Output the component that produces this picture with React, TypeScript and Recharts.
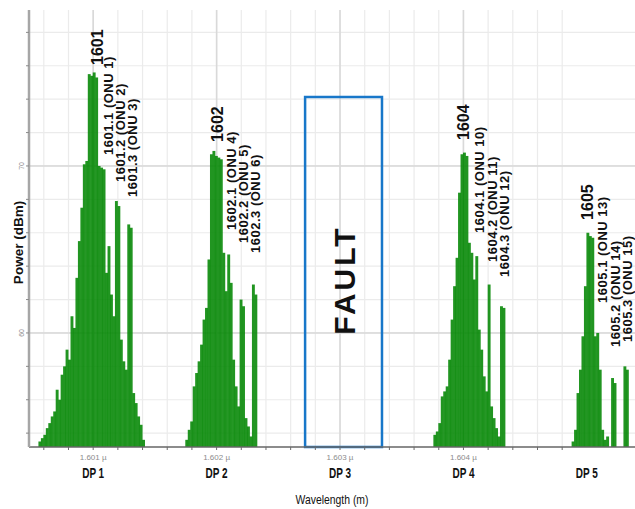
import {
  ComposedChart,
  Bar,
  XAxis,
  YAxis,
  CartesianGrid,
  ReferenceArea,
  ReferenceDot,
} from 'recharts';

// spacing of the analyzer samples, in nm
const SAMPLE_STEP = 0.02;

// DP 1 : 1601 band
const dp1Start = 1600.57;
const dp1Power = [
  53.5, 53.7, 53.9, 54.3, 54.6, 55.0, 55.3, 56.6, 56.0, 57.5,
  58.0, 59.0, 58.4, 61.0, 60.3, 63.3, 65.5, 67.5, 70.1, 70.3,
  75.5, 75.4, 75.6, 75.3, 70.0, 69.9, 69.8, 63.6, 65.2, 62.3,
  61.0, 67.9, 67.6, 59.6, 58.3, 57.8, 66.5, 66.3, 56.4, 55.8,
  55.0, 54.5, 53.6,
];

// DP 2 : 1602 band
const dp2Start = 1601.76;
const dp2Power = [
  53.6, 54.2, 54.7, 56.8, 57.6, 58.3, 59.3, 60.8, 61.5, 64.4,
  70.7, 70.9, 70.6, 70.5, 70.4, 64.8, 62.5, 64.7, 63.0, 58.4,
  56.8, 55.6, 62.0, 61.6, 54.9, 54.4, 53.8, 62.9, 62.3,
];

// DP 4 : 1604 band
const dp4Start = 1603.77;
const dp4Power = [
  53.9, 54.1, 54.6, 56.2, 56.5, 56.8, 58.4, 60.8, 62.8, 64.5,
  68.4, 70.7, 70.8, 70.6, 65.4, 64.8, 63.2, 64.6, 60.2, 59.0,
  57.4, 56.5, 62.9, 55.6, 54.9, 54.3, 53.8, 61.6, 61.5,
];

// DP 5 : 1605 band
const dp5Start = 1604.89;
const dp5Power = [
  53.5, 54.2, 56.4, 57.8, 59.8, 62.8, 66.0, 65.8, 65.7, 59.8,
  60.0, 57.8, 54.2, 53.6, 53.8, null, 57.3, 57.0, null, null,
  null, 58.0, 57.8,
];

const gridTicksX = [
  1600.6, 1600.8, 1601, 1601.2, 1601.4, 1601.6, 1601.8, 1602, 1602.2, 1602.4,
  1602.6, 1602.8, 1603, 1603.2, 1603.4, 1603.6, 1603.8, 1604, 1604.2, 1604.4,
  1604.6, 1604.8,
];
const majorTicksX = [1601, 1602, 1603, 1604];
const dpTicks = [1601, 1602, 1603, 1604, 1605];
const dpLabels = ['DP 1', 'DP 2', 'DP 3', 'DP 4', 'DP 5'];
const wlLabels = ['1.601 µ', '1.602 µ', '1.603 µ', '1.604 µ', ''];

const yTicks = [54, 56, 58, 60, 62, 64, 66, 68, 70, 72, 74, 76, 78];
const yLabeled = [60, 70];

const peakLabels = [
  { text: '1601', wl: 1601.081, power: 76.05 },
  { text: '1602', wl: 1602.053, power: 71.44 },
  { text: '1604', wl: 1604.045, power: 71.56 },
  { text: '1605', wl: 1605.049, power: 66.77 },
];

const onuLabels = [
  { text: '1601.1 (ONU 1)', wl: 1601.162, power: 70.66 },
  { text: '1601.2 (ONU 2)', wl: 1601.259, power: 69.04 },
  { text: '1601.3 (ONU 3)', wl: 1601.356, power: 68.14 },
  { text: '1602.1 (ONU 4)', wl: 1602.158, power: 66.17 },
  { text: '1602.2 (ONU 5)', wl: 1602.255, power: 65.39 },
  { text: '1602.3 (ONU 6)', wl: 1602.352, power: 64.79 },
  { text: '1604.1 (ONU 10)', wl: 1604.166, power: 65.99 },
  { text: '1604.2 (ONU 11)', wl: 1604.271, power: 64.25 },
  { text: '1604.3 (ONU 12)', wl: 1604.368, power: 63.35 },
  { text: '1605.1 (ONU 13)', wl: 1605.162, power: 61.8 },
  { text: '1605.2 (ONU 14)', wl: 1605.267, power: 59.16 },
  { text: '1605.3 (ONU 15)', wl: 1605.364, power: 59.46 },
];

const fault = { x1: 1602.717, x2: 1603.34, top: 74.13 };

const X_MIN = 1600.48;
const X_MAX = 1605.39;
const Y_MIN = 53.17;
const Y_MAX = 79.34;

const SANS = '"Liberation Sans", Arial, sans-serif';

const clusters = [
  { start: dp1Start, power: dp1Power },
  { start: dp2Start, power: dp2Power },
  { start: dp4Start, power: dp4Power },
  { start: dp5Start, power: dp5Power },
];

const data = clusters.flatMap((c) =>
  c.power.map((p, i) => ({ wl: +(c.start + i * SAMPLE_STEP).toFixed(3), power: p })),
);

function WaveTick(props: any) {
  const { x, y, payload } = props;
  const v = payload.value;
  const idx = dpTicks.indexOf(v);
  return (
    <g>
      {v < 1604.9 && <line x1={x} x2={x} y1={y} y2={y + 3} stroke="#6a6a6a" />}
      {idx >= 0 && (
        <>
          <text x={x} y={y + 13} textAnchor="middle" fontSize={8} fill="#8c8c8c" fontFamily={SANS}>
            {wlLabels[idx]}
          </text>
          <text
            x={x}
            y={y + 31}
            textAnchor="middle"
            fontSize={15}
            fontWeight="bold"
            fill="#111"
            fontFamily={SANS}
            textLength={22}
            lengthAdjust="spacingAndGlyphs"
          >
            {dpLabels[idx]}
          </text>
        </>
      )}
    </g>
  );
}

function PowerTick(props: any) {
  const { x, y, payload } = props;
  if (!yLabeled.includes(payload.value)) return <g />;
  return (
    <text
      x={x}
      y={y}
      transform={`rotate(-90 ${x} ${y})`}
      textAnchor="middle"
      fontSize={7}
      fill="#8c8c8c"
      fontFamily={SANS}
    >
      {payload.value}
    </text>
  );
}

// spectral line: a touch wider than its slot so neighbours merge
function LineBar(props: any) {
  const { x, y, width, height } = props;
  if (!height || height <= 0) return <g />;
  return <rect x={x - 0.45} y={y} width={width + 0.9} height={height} fill="#098909" fillOpacity={0.9} />;
}

// text reading bottom-to-top, starting at the anchor point
function upText(text: string, size: number, spacing: number) {
  return (p: any) => {
    const vb = p.viewBox ?? p;
    const x = vb.x;
    const y = vb.y;
    return (
      <text
        x={x}
        y={y}
        transform={`rotate(-90 ${x} ${y})`}
        textAnchor="start"
        fontSize={size}
        fontWeight="bold"
        letterSpacing={spacing}
        fill="#111"
        fontFamily={SANS}
      >
        {text}
      </text>
    );
  };
}

function faultLabel(p: any) {
  const vb = p.viewBox;
  const x = vb.x + vb.width / 2 + 11;
  const y = vb.y + vb.height / 2 + 8;
  return (
    <text
      x={x}
      y={y}
      transform={`rotate(-90 ${x} ${y})`}
      textAnchor="middle"
      fontSize={30}
      fontWeight="bold"
      letterSpacing={3}
      fill="#111"
      fontFamily={SANS}
    >
      FAULT
    </text>
  );
}

function powerTitle(p: any) {
  const vb = p.viewBox;
  const x = vb.x + 23;
  const y = vb.y + vb.height / 2 + 14;
  return (
    <text
      x={x}
      y={y}
      transform={`rotate(-90 ${x} ${y})`}
      textAnchor="middle"
      fontSize={13.5}
      fontWeight="bold"
      fill="#111"
      fontFamily={SANS}
    >
      Power (dBm)
    </text>
  );
}

function waveTitle(p: any) {
  const vb = p.viewBox;
  return (
    <text
      x={vb.x + vb.width / 2}
      y={vb.y + 57}
      textAnchor="middle"
      fontSize={13.5}
      fontWeight={500}
      fill="#111"
      fontFamily={SANS}
      textLength={73}
      lengthAdjust="spacingAndGlyphs"
    >
      Wavelength (m)
    </text>
  );
}

export default function App() {
  return (
    <div style={{ position: 'absolute', left: 0, top: 0, width: 635, height: 509, background: '#fff', overflow: 'hidden' }}>
      <ComposedChart width={635} height={509} data={data} margin={{ top: 10, right: 0, bottom: 0, left: 0 }}>
        <CartesianGrid stroke="#ebebeb" strokeWidth={1.2} horizontalValues={yTicks} verticalValues={gridTicksX} />
        <CartesianGrid stroke="#d9d9d9" strokeWidth={1.6} horizontalValues={yLabeled} verticalValues={majorTicksX} />
        <XAxis
          dataKey="wl"
          type="number"
          domain={[X_MIN, X_MAX]}
          allowDataOverflow
          ticks={[...gridTicksX, 1605]}
          interval={0}
          height={62}
          tickSize={0}
          tickMargin={0}
          tickLine={false}
          tick={<WaveTick />}
          axisLine={{ stroke: '#666', strokeWidth: 1.5 }}
          label={waveTitle}
        />
        <YAxis
          type="number"
          domain={[Y_MIN, Y_MAX]}
          allowDataOverflow
          ticks={yTicks}
          interval={0}
          width={29}
          tickSize={3}
          tickMargin={2}
          tickLine={{ stroke: '#8a8a8a' }}
          tick={<PowerTick />}
          axisLine={{ stroke: '#a6a6a6', strokeWidth: 2.5 }}
          label={powerTitle}
        />
        <Bar dataKey="power" fill="#098909" barSize={2} shape={<LineBar />} isAnimationActive={false} />
        <ReferenceArea
          x1={fault.x1}
          x2={fault.x2}
          y1={Y_MIN}
          y2={fault.top}
          fill="none"
          fillOpacity={0}
          stroke="#1877c9"
          strokeWidth={2.5}
          label={faultLabel}
        />
        {peakLabels.map((d) => (
          <ReferenceDot
            key={d.text}
            x={d.wl}
            y={d.power}
            r={0}
            fill="none"
            stroke="none"
            label={upText(d.text, 16, 0)}
          />
        ))}
        {onuLabels.map((d) => (
          <ReferenceDot
            key={d.text}
            x={d.wl}
            y={d.power}
            r={0}
            fill="none"
            stroke="none"
            label={upText(d.text, 13, 0.5)}
          />
        ))}
      </ComposedChart>
    </div>
  );
}
